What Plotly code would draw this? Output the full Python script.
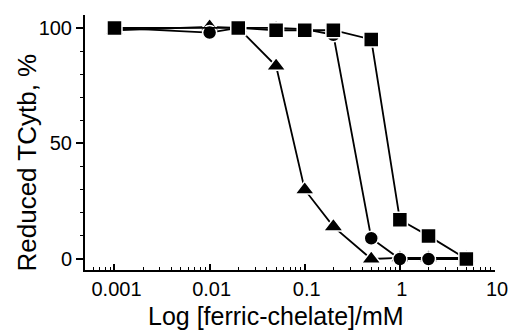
import plotly.graph_objects as go

# Data (ferric-chelate concentration, mM) and reduced TCytb (%)
sq_x = [0.001, 0.02, 0.05, 0.1, 0.2, 0.5, 1, 2, 5]
sq_y = [100, 100, 99, 99, 99, 95, 17, 10, 0]

ci_x = [0.001, 0.01, 0.02, 0.05, 0.1, 0.2, 0.5, 1, 2, 5]
ci_y = [100, 98, 100, 100, 99.5, 97, 9, 0, 0, 0]

tr_x = [0.001, 0.01, 0.02, 0.05, 0.1, 0.2, 0.5, 1, 2, 5]
tr_y = [99, 100.5, 100, 83.5, 30, 14, 0, 0.5, 0.5, 0.5]

x_tickvals = [0.001, 0.01, 0.1, 1, 10]
x_ticktext = ["0.001", "0.01", "0.1", "1", "10"]
y_tickvals = [0, 50, 100]

W, H = 510, 331
L, R, T, B = 85, 15, 15, 61
pw, ph = W - L - R, H - T - B

FONT = "Liberation Sans, Arial, sans-serif"

fig = go.Figure()

def add(xs, ys, symbol, size):
    fig.add_trace(go.Scatter(
        x=xs, y=ys, mode="lines+markers",
        line=dict(color="black", width=1.8),
        marker=dict(symbol=symbol, size=size, color="black",
                    line=dict(color="white", width=1.5)),
        showlegend=False, cliponaxis=False))

add(tr_x, tr_y, "triangle-up", 17)
add(ci_x, ci_y, "circle", 14)
add(sq_x, sq_y, "square", 15)

fig.update_xaxes(
    type="log", range=[-3.31, 1.0], automargin=False,
    tickvals=x_tickvals, ticktext=x_ticktext,
    ticks="inside", ticklen=6, tickwidth=1.5, tickcolor="black",
    minor=dict(ticks="inside", ticklen=3, tickwidth=1.2, tickcolor="black", dtick="D1"),
    showline=True, linecolor="black", linewidth=2,
    showgrid=False, zeroline=False, ticklabelshift=2,
    tickfont=dict(family=FONT, size=20, color="black"),
)
fig.update_yaxes(
    range=[-4.76, 105.6], automargin=False,
    tickvals=y_tickvals,
    ticks="outside", ticklen=7, tickwidth=1.5, tickcolor="black",
    minor=dict(ticks="outside", ticklen=3, tickwidth=1.2, tickcolor="black", dtick=10, tick0=0),
    showline=True, linecolor="black", linewidth=2,
    showgrid=False, zeroline=False,
    tickfont=dict(family=FONT, size=20, color="black"),
)

fig.add_annotation(
    text="Log [ferric-chelate]/mM", xref="paper", yref="paper",
    x=(276 - L) / pw, y=-(316 - (T + ph)) / ph, xanchor="center", yanchor="middle",
    showarrow=False, font=dict(family=FONT, size=25, color="black"))
fig.add_annotation(
    text="Reduced TCytb, %", xref="paper", yref="paper",
    x=(27 - L) / pw, y=((T + ph) - 162.5) / ph, xanchor="center", yanchor="middle",
    textangle=-90, showarrow=False,
    font=dict(family=FONT, size=26, color="black"))

fig.update_layout(
    width=W, height=H,
    margin=dict(l=L, r=R, t=T, b=B, autoexpand=False),
    plot_bgcolor="white", paper_bgcolor="white",
)

fig.write_html(
    "out.html",
    config={"displayModeBar": False},
    post_script="document.body.style.margin='0';document.body.style.overflow='hidden';",
)
